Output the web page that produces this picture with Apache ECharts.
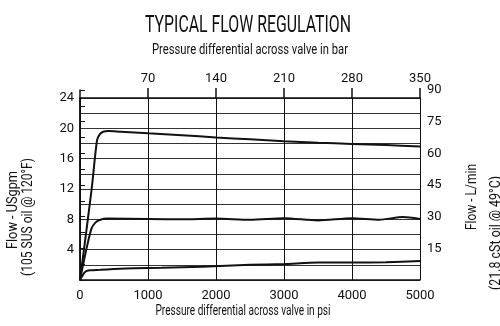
<!DOCTYPE html>
<html><head><meta charset="utf-8">
<script src="https://cdn.jsdelivr.net/npm/echarts@6/dist/echarts.min.js"></script>
<style>html,body{margin:0;padding:0;background:#fff}#c{width:500px;height:326px}</style>
</head><body><div id="c"></div>
<script>
// ---- data (flow in US gpm vs pressure differential in psi) ----
const highPsi = [0, 170, 250, 290, 340, 420, 600, 1000, 1500, 2000, 2500, 3000, 3500, 4000, 4500, 5000];
const highGpm = [0, 11.9, 18.4, 19.2, 19.55, 19.65, 19.55, 19.35, 19.1, 18.8, 18.55, 18.3, 18.1, 17.95, 17.8, 17.6];
const midPsi = [0, 100, 170, 230, 300, 400, 1000, 1500, 2000, 2500, 3000, 3500, 4000, 4400, 4750, 5000];
const midGpm = [0, 4.3, 6.8, 7.6, 7.95, 8.1, 8.05, 8.0, 8.1, 7.95, 8.15, 7.85, 8.15, 7.95, 8.3, 8.05];
const lowPsi = [0, 60, 100, 150, 300, 500, 800, 1200, 1800, 2500, 3000, 3500, 4000, 4500, 5000];
const lowGpm = [0, 0.9, 1.2, 1.3, 1.35, 1.45, 1.55, 1.6, 1.75, 2.0, 2.1, 2.3, 2.3, 2.35, 2.5];
const psiTicks = [0, 1000, 2000, 3000, 4000, 5000];
const barTicks = [70, 140, 210, 280, 350];
const gpmTicks = [4, 8, 12, 16, 20, 24];
const lpmTicks = [15, 30, 45, 60, 75, 90];

const FAMILY = "Roboto, 'Liberation Sans', sans-serif";
const cv = document.createElement('canvas').getContext('2d');
const fontStr = (px) => px + 'px ' + FAMILY;

const zip = (a, b) => a.map((x, i) => [x, b[i]]);
const chart = echarts.init(document.getElementById('c'));
const lbl = {fontFamily: FAMILY, fontSize: 13, color: '#111'};
const lineSeries = (psi, gpm) => ({
  type: 'line', xAxisIndex: 0, yAxisIndex: 0, data: zip(psi, gpm), showSymbol: false,
  smooth: 0.25, lineStyle: {color: '#111', width: 2}, z: 5
});
function fitText(text, px, cx, cy, width, rot) {
  cv.font = fontStr(px);
  const w = cv.measureText(text).width;
  return {type: 'text', x: cx, y: cy, rotation: rot || 0, scaleX: Math.min(1.2, width / w), scaleY: 1,
    style: {text: text, font: fontStr(px), fill: '#111', align: 'center', verticalAlign: 'middle'}};
}
chart.setOption({
  animation: false,
  grid: [
    {left: 80, right: 80, top: 98, bottom: 46, containLabel: false},
    {left: 80, right: 80, top: 90, bottom: 46, containLabel: false}
  ],
  xAxis: [
    {type: 'value', gridIndex: 0, position: 'bottom', min: 0, max: 5000, interval: 1000,
     axisLine: {show: true, lineStyle: {color: '#111', width: 1.5}}, axisTick: {show: false},
     axisLabel: {...lbl, margin: 9, formatter: v => psiTicks.includes(v) ? String(v) : ''},
     splitLine: {show: true, lineStyle: {color: '#111', width: 1}}},
    {type: 'value', gridIndex: 0, position: 'top', min: 0, max: 350, interval: 70,
     axisLine: {show: true, lineStyle: {color: '#111', width: 1.5}},
     axisTick: {show: true, length: 10, customValues: barTicks, lineStyle: {color: '#111', width: 1.5}},
     axisLabel: {...lbl, margin: 13, formatter: v => barTicks.includes(v) ? String(v) : ''},
     splitLine: {show: false}},
    {type: 'value', gridIndex: 1, min: 0, max: 5000, show: false}
  ],
  yAxis: [
    {type: 'value', gridIndex: 0, position: 'left', min: 0, max: 24, interval: 2,
     axisLine: {show: true, lineStyle: {color: '#111', width: 1.5}}, axisTick: {show: false},
     axisLabel: {...lbl, margin: 6, padding: [3, 0, 0, 0], formatter: v => gpmTicks.includes(v) ? String(v) : ''},
     splitLine: {show: true, lineStyle: {color: '#333', width: 1}}},
    {type: 'value', gridIndex: 1, position: 'right', min: 0, max: 90, interval: 7.5,
     axisLine: {show: true, lineStyle: {color: '#111', width: 1.5}},
     axisTick: {show: true, length: 5, inside: false, lineStyle: {color: '#111', width: 1}},
     axisLabel: {...lbl, margin: 7, padding: [5, 0, 0, 0], formatter: v => lpmTicks.includes(v) ? String(v) : ''},
     splitLine: {show: false}}
  ],
  series: [lineSeries(highPsi, highGpm), lineSeries(midPsi, midGpm), lineSeries(lowPsi, lowGpm)],
  graphic: [
    fitText('TYPICAL FLOW REGULATION', 24, 248, 26, 206),
    fitText('Pressure differential across valve in bar', 15, 250, 50, 196),
    fitText('Pressure differential across valve in psi', 14, 243, 311, 175),
    fitText('Flow - USgpm', 14, 13, 210, 78, Math.PI / 2),
    fitText('(105 SUS oil @ 120°F)', 14, 28, 217, 118, Math.PI / 2),
    fitText('Flow - L/min', 14, 472, 197, 66, Math.PI / 2),
    fitText('(21.8 cSt oil @ 49°C)', 14, 496, 233, 114, Math.PI / 2)
  ]
});
</script></body></html>
